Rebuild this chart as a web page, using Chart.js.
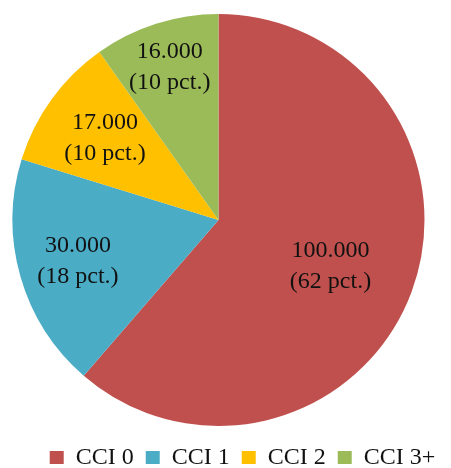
<!DOCTYPE html>
<html>
<head>
<meta charset="utf-8">
<script src="https://cdn.jsdelivr.net/npm/chart.js@4/dist/chart.umd.min.js"></script>
<style>
  html, body { margin: 0; padding: 0; background: #fff; }
  #wrap { width: 451px; height: 468px; }
</style>
</head>
<body>
<div id="wrap"><canvas id="pieChart"></canvas></div>
<script>
// data
const categories = ["CCI 0", "CCI 1", "CCI 2", "CCI 3+"];
const counts = [100000, 30000, 17000, 16000];
const pctLabels = [62, 18, 10, 10];
const colors = ["#C0504D", "#4BACC6", "#FFC000", "#9BBB59"];

// how far out (fraction of radius) each label sits
const labelDist = [0.58, 0.71, 0.68, 0.78];

const FONT = "'Liberation Serif', 'Times New Roman', serif";

function fmt(n) {
    return String(n).replace(/\B(?=(\d{3})+(?!\d))/g, ".");
}

const sliceLabels = {
    id: "sliceLabels",
    afterDatasetsDraw(chart) {
        const ctx = chart.ctx;
        const meta = chart.getDatasetMeta(0);
        ctx.save();
        ctx.font = "24px " + FONT;
        ctx.fillStyle = "#111";
        ctx.textAlign = "center";
        ctx.textBaseline = "middle";
        meta.data.forEach((arc, i) => {
            const p = arc.getProps(["x", "y", "startAngle", "endAngle", "outerRadius"], true);
            const mid = (p.startAngle + p.endAngle) / 2;
            const r = p.outerRadius * labelDist[i];
            const cx = p.x + Math.cos(mid) * r;
            const cy = p.y + Math.sin(mid) * r + (i === 0 ? 4 : 0);
            ctx.fillText(fmt(counts[i]), cx, cy - 15);
            ctx.fillText("(" + pctLabels[i] + " pct.)", cx, cy + 16);
        });
        ctx.restore();
    }
};

// nudge the legend so it sits like in the original (right of the pie centre)
const legendNudge = {
    id: "legendNudge",
    afterLayout(chart) {
        const lg = chart.legend;
        if (!lg) return;
        const dx = 24, dy = 8;
        lg.left += dx; lg.right += dx;
        lg.top += dy; lg.bottom += dy;
    }
};

new Chart(document.getElementById("pieChart"), {
    type: "pie",
    data: {
        labels: categories,
        datasets: [{
            data: counts,
            backgroundColor: colors,
            borderWidth: 0
        }]
    },
    options: {
        responsive: true,
        maintainAspectRatio: false,
        animation: false,
        layout: {
            padding: { top: 14, left: 12, right: 26, bottom: 12 }
        },
        plugins: {
            legend: {
                position: "bottom",
                maxHeight: 30,
                labels: {
                    boxWidth: 14,
                    boxHeight: 14,
                    padding: 12,
                    color: "#111",
                    font: { family: FONT, size: 24 }
                }
            },
            tooltip: { enabled: false }
        }
    },
    plugins: [sliceLabels, legendNudge]
});
</script>
</body>
</html>
